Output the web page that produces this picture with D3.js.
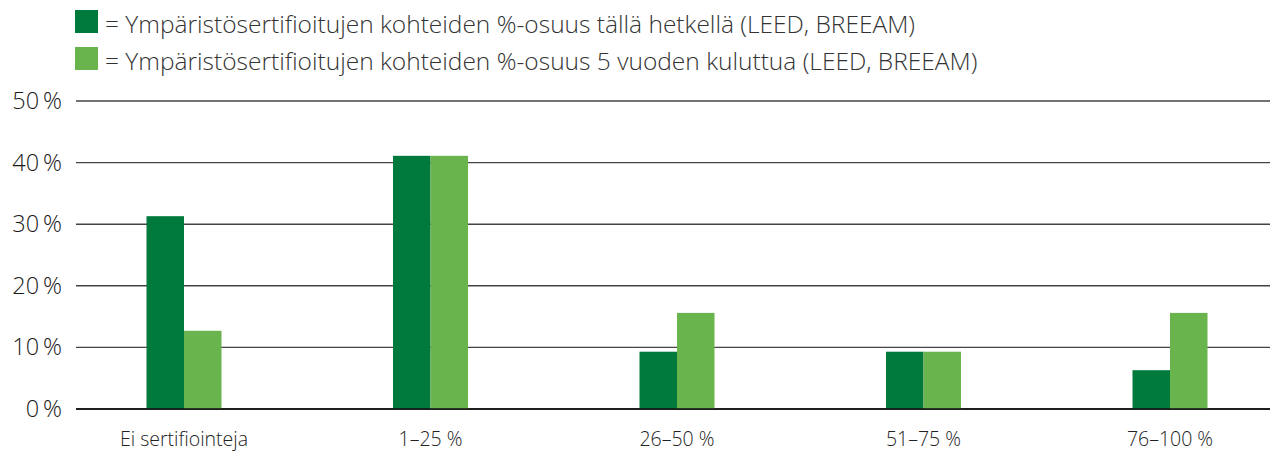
<!DOCTYPE html>
<html>
<head>
<meta charset="utf-8">
<script src="https://cdn.jsdelivr.net/npm/d3@7/dist/d3.min.js"></script>
<style>
  html, body { margin: 0; padding: 0; background: #fff; }
  svg { display: block; }
  text { font-family: "Open Sans", "Noto Sans", sans-serif; }
</style>
</head>
<body>
<svg id="chart" width="1270" height="452"></svg>
<script>
const categories = ["Ei sertifiointeja", "1–25 %", "26–50 %", "51–75 %", "76–100 %"];
const seriesNames = [
  "= Ympäristösertifioitujen kohteiden %-osuus tällä hetkellä (LEED, BREEAM)",
  "= Ympäristösertifioitujen kohteiden %-osuus 5 vuoden kuluttua (LEED, BREEAM)"
];
const seriesNow = [31.3, 41.1, 9.3, 9.3, 6.3];
const seriesFive = [12.7, 41.1, 15.6, 9.3, 15.6];
const yTicks = [0, 10, 20, 30, 40, 50];
const yTickLabels = ["0\u2009%", "10\u2009%", "20\u2009%", "30\u2009%", "40\u2009%", "50\u2009%"];
const colors = ["#00793c", "#6ab44e"];

const svg = d3.select("#chart");

const x = d3.scaleBand().domain(categories).range([60.75, 1293.25]).padding(0);
const y = d3.scaleLinear().domain([0, 50]).range([409, 101]);
const barW = 37.5;
const inner = d3.scaleBand().domain([0, 1]).range([0, barW * 2]).padding(0);

// gridlines
svg.append("g").selectAll("line").data(yTicks).join("line")
  .attr("x1", 76).attr("x2", 1270)
  .attr("y1", d => y(d)).attr("y2", d => y(d))
  .attr("stroke", d => d === 0 ? "#111" : "#444")
  .attr("stroke-width", 1.4);

// y tick labels
svg.append("g").selectAll("text").data(yTicks).join("text")
  .attr("x", 62).attr("y", d => y(d) + 8)
  .attr("text-anchor", "end")
  .attr("font-size", 23.5)
  .attr("font-weight", 300)
  .attr("fill", "#1a1a1a")
  .text((d, i) => yTickLabels[i]);

// bars
const series = [seriesNow, seriesFive];
series.forEach((vals, si) => {
  svg.append("g").selectAll("rect").data(vals).join("rect")
    .attr("x", (d, i) => x(categories[i]) + x.bandwidth() / 2 - barW + inner(si))
    .attr("width", inner.bandwidth())
    .attr("y", d => y(d))
    .attr("height", d => y(0) - y(d))
    .attr("fill", colors[si]);
});

// redraw baseline over bars
svg.append("line")
  .attr("x1", 76).attr("x2", 1270)
  .attr("y1", y(0)).attr("y2", y(0))
  .attr("stroke", "#111").attr("stroke-width", 1.4);

// category labels
svg.append("g").selectAll("text").data(categories).join("text")
  .attr("x", d => x(d) + x.bandwidth() / 2)
  .attr("y", 446)
  .attr("text-anchor", "middle")
  .attr("font-size", 19.5)
  .attr("font-weight", 300)
  .attr("fill", "#222")
  .text(d => d);

// legend
const legend = svg.append("g");
seriesNames.forEach((name, i) => {
  legend.append("rect")
    .attr("x", 75).attr("y", 10 + i * 37)
    .attr("width", 23).attr("height", 23)
    .attr("fill", colors[i]);
  legend.append("text")
    .attr("x", 105).attr("y", 33 + i * 37)
    .attr("font-size", 24.5)
    .attr("font-weight", 300)
    .attr("fill", "#333")
    .text(name);
});
</script>
</body>
</html>
